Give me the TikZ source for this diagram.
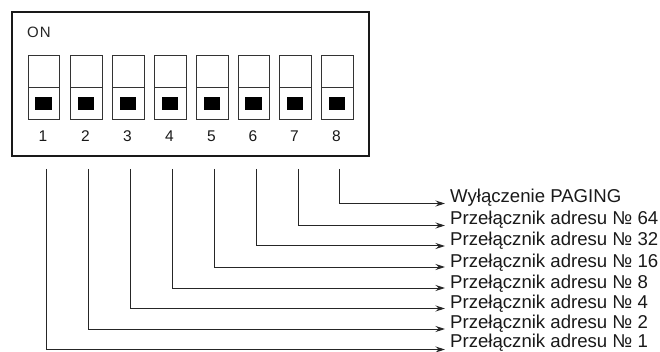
\documentclass[tikz,border=0pt]{standalone}
\usepackage{fontspec}
\setmainfont{Liberation Sans}
\usetikzlibrary{arrows.meta}
\tikzset{
  x=1pt,y=-1pt,
  outerbox/.style={draw=black!90,line width=1.6pt,minimum width=357pt,minimum height=144pt,inner sep=0pt,anchor=north west},
  sw/.style={draw=black!80,line width=1pt,minimum width=31.5pt,minimum height=32.5pt,inner sep=0pt,anchor=north west},
  knob/.style={fill=black,minimum width=16.5pt,minimum height=13pt,inner sep=0pt},
  num/.style={font=\fontsize{15.5}{16}\selectfont,text=black!90,inner sep=0pt,anchor=base},
  lab/.style={font=\fontsize{18.6}{20}\selectfont,text=black!90,inner sep=0pt,anchor=base west},
  wire/.style={draw=black!85,line width=1pt,-{Stealth[length=9.5pt,width=6pt]}},
}
\begin{document}
\begin{tikzpicture}
\useasboundingbox (0,0) rectangle (660,352);
\node[outerbox] (body) at (11,11) {};
\node[inner sep=0pt,anchor=base west,text=black!85,font=\fontsize{15}{16}\selectfont] (on) at (27,37.5) {O\kern1pt N};
\foreach \i/\x/\n in {1/27.5/1,2/70/2,3/112/3,4/154/4,5/196/5,6/237.5/6,7/279/7,8/321/8}{
  \node[sw] (up\i) at (\x,55) {};
  \node[sw] (dn\i) at (\x,87) {};
  \node[knob] (k\i) at (\x+16,103.5) {};
  \node[num] (n\i) at (\x+15.5,141.5) {\n};
}
\foreach \i/\x/\ty/\tb/\t in {
  1/46/349.5/347.8/{Przełącznik adresu № 1},
  2/88/329/328.5/{Przełącznik adresu № 2},
  3/130/308.5/308.5/{Przełącznik adresu № 4},
  4/172/288/288.5/{Przełącznik adresu № 8},
  5/214/267/267.5/{Przełącznik adresu № 16},
  6/256/246/246/{Przełącznik adresu № 32},
  7/298/225.5/225/{Przełącznik adresu № 64},
  8/339/203.5/203/{Wyłączenie PAGING}}{
  \node[lab] (l\i) at (450,\tb) {\t};
  \coordinate (s\i) at (\x,169);
  \coordinate (e\i) at (445,\ty);
  \draw[wire] (s\i) |- (e\i);
}
\end{tikzpicture}
\end{document}
